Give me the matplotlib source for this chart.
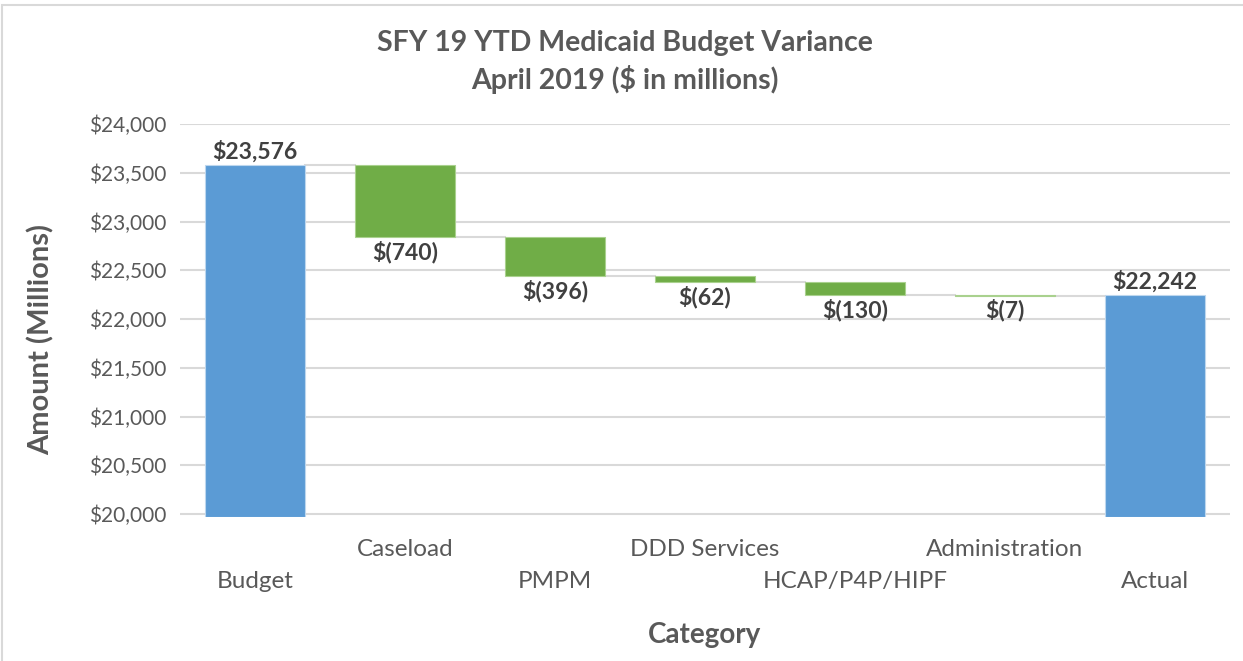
import matplotlib
matplotlib.use("Agg")
import matplotlib.pyplot as plt
from matplotlib.patches import Rectangle

plt.rcParams['font.family'] = ['Lato', 'DejaVu Sans']

# data
categories = ["Budget", "Caseload", "PMPM", "DDD Services", "HCAP/P4P/HIPF", "Administration", "Actual"]
budget = 23576
changes = [-740, -396, -62, -130, -7]
actual = 22242
labels = ["$23,576", "$(740)", "$(396)", "$(62)", "$(130)", "$(7)", "$22,242"]

blue = "#5b9bd5"
green = "#70ad47"
grid_c = "#d9d9d9"
txt = "#595959"

fig = plt.figure(figsize=(12.43, 6.61), dpi=100)
ax = fig.add_axes([0.1448, 0.2172, 0.8447, 0.5952])
ymin = 19965
ax.set_ylim(ymin, 24000)
ax.set_xlim(-0.5, 6.5)
w = 0.667

ax.set_yticks(range(20000, 24001, 500))
ax.set_yticklabels(["${:,}".format(v) for v in range(20000, 24001, 500)], fontsize=15, color=txt)
ax.yaxis.grid(True, color=grid_c, linewidth=1.5, zorder=0)
ax.set_axisbelow(True)
for s in ax.spines.values():
    s.set_visible(False)
ax.tick_params(axis='both', length=0)
ax.tick_params(axis='y', pad=10)

# bars
tops = [budget]
bottoms = [ymin]
level = budget
for c in changes:
    tops.append(level)
    bottoms.append(level + c)
    level = level + c
tops.append(actual)
bottoms.append(ymin)

for i in range(len(categories)):
    col = blue if i in (0, len(categories) - 1) else green
    ax.bar(i, tops[i] - bottoms[i], bottom=bottoms[i], width=w, color=col,
           edgecolor="#bdd7ee" if col == blue else "#a9d18e", linewidth=0.8, zorder=3)

# connectors
for i in range(len(categories) - 1):
    yv = budget if i == 0 else bottoms[i]
    ax.plot([i + w / 2, i + 1 - w / 2], [yv, yv], color=grid_c, linewidth=1.5, zorder=2)

# labels
for i in range(len(categories)):
    if i in (0, len(categories) - 1):
        ax.text(i, tops[i] + 30, labels[i], ha='center', va='bottom', fontsize=16.5,
                fontweight='bold', color="#404040")
    else:
        ax.text(i, bottoms[i] - 35, labels[i], ha='center', va='top', fontsize=16.5,
                fontweight='bold', color="#404040")

# staggered category labels
ax.set_xticks(range(len(categories)))
ax.set_xticklabels([])
for i, c in enumerate(categories):
    yy = -0.137 if i % 2 == 0 else -0.055
    ax.text(i, yy, c, transform=ax.get_xaxis_transform(), ha='center', va='top',
            fontsize=17.5, color=txt)

fig.text(0.5665, 0.02, "Category", ha='center', va='bottom', fontsize=20, fontweight='bold', color=txt)
fig.text(0.033, 0.487, "Amount (Millions)", rotation=90, ha='center', va='center',
         fontsize=21, fontweight='bold', color=txt)
fig.text(0.503, 0.935, "SFY 19 YTD Medicaid Budget Variance", ha='center', va='center',
         fontsize=20.5, fontweight='bold', color=txt)
fig.text(0.503, 0.88, "April 2019 ($ in millions)", ha='center', va='center',
         fontsize=20.5, fontweight='bold', color=txt)

# chart border
fig.patches.append(Rectangle((0.002, -0.01), 1.5, 1.002, transform=fig.transFigure,
                             fill=False, edgecolor=grid_c, linewidth=1.5))

fig.savefig("out.png", dpi=100)
